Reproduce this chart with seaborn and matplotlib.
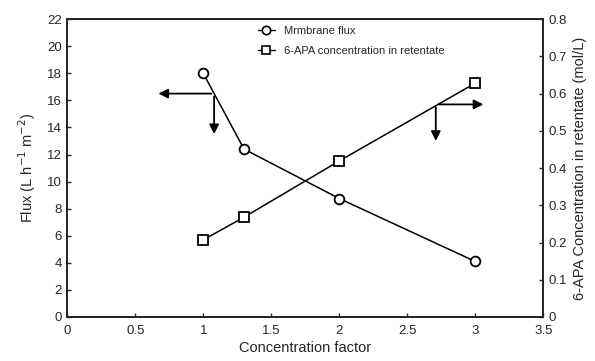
import numpy as np
import pandas as pd
import matplotlib
matplotlib.use("Agg")
import matplotlib.pyplot as plt
import seaborn as sns
from matplotlib.lines import Line2D

# Dados
fator_conc = [1.0, 1.3, 2.0, 3.0]
fluxo = [18.0, 12.4, 8.75, 4.1]
conc_6apa = [0.207, 0.268, 0.419, 0.628]

x_ticks = [0, 0.5, 1, 1.5, 2, 2.5, 3, 3.5]
y_ticks_esq = list(range(0, 23, 2))
y_ticks_dir = [0, 0.1, 0.2, 0.3, 0.4, 0.5, 0.6, 0.7, 0.8]

sns.set_style("ticks")
plt.rcParams['font.family'] = ['Liberation Sans', 'DejaVu Sans']

fig = plt.figure(figsize=(5.95, 3.61), dpi=100)
ax = fig.add_axes([0.113, 0.122, 0.8, 0.825])
ax2 = ax.twinx()

df = pd.DataFrame({'fator': fator_conc, 'fluxo': fluxo, 'conc': conc_6apa})

sns.lineplot(data=df, x='fator', y='fluxo', ax=ax, color='black', lw=1.1,
             marker='o', markersize=7, markerfacecolor='white',
             markeredgecolor='black', markeredgewidth=1.3)
sns.lineplot(data=df, x='fator', y='conc', ax=ax2, color='black', lw=1.1,
             marker='s', markersize=7, markerfacecolor='white',
             markeredgecolor='black', markeredgewidth=1.3)

ax.set_xlim(0, 3.5)
ax.set_ylim(0, 22)
ax2.set_ylim(0, 0.8)
ax.set_xticks(x_ticks)
ax.set_xticklabels([f"{t:g}" for t in x_ticks])
ax.set_yticks(y_ticks_esq)
ax2.set_yticks(y_ticks_dir)
ax2.set_yticklabels(["0"] + [f"{t:.1f}" for t in y_ticks_dir[1:]])

for a in (ax, ax2):
    for s in a.spines.values():
        s.set_linewidth(1.3)
        s.set_visible(True)
    a.tick_params(direction='in', length=3, width=1, labelsize=9.5, pad=4)
ax.tick_params(axis='x', pad=6)

ax.set_xlabel("Concentration factor", fontsize=10.5, labelpad=3)
ax.set_ylabel("Flux (L h$^{-1}$ m$^{-2}$)", fontsize=10.5, labelpad=6)
ax2.set_ylabel("6-APA Concentration in retentate (mol/L)", fontsize=10.5)

# Setas indicando o eixo de cada série
seta = dict(arrowstyle='-|>', color='black', lw=1.3, mutation_scale=14)
ax.annotate('', xy=(0.65, 16.5), xytext=(1.08, 16.5), arrowprops=seta)
ax.annotate('', xy=(1.08, 13.3), xytext=(1.08, 16.5), arrowprops=seta)
ax.annotate('', xy=(3.08, 15.7), xytext=(2.71, 15.7), arrowprops=seta)
ax.annotate('', xy=(2.71, 12.8), xytext=(2.71, 15.7), arrowprops=seta)

handles = [
    Line2D([], [], color='black', lw=1, marker='o', markersize=6,
           markerfacecolor='white', markeredgewidth=1.2),
    Line2D([], [], color='black', lw=1, marker='s', markersize=6,
           markerfacecolor='white', markeredgewidth=1.2),
]
ax.legend(handles, ["Mrmbrane flux", "6-APA concentration in retentate"],
          loc='upper left', bbox_to_anchor=(0.38, 1.01), frameon=False,
          fontsize=8, handlelength=1.5, labelspacing=0.9)

fig.savefig("out.png", dpi=100)
